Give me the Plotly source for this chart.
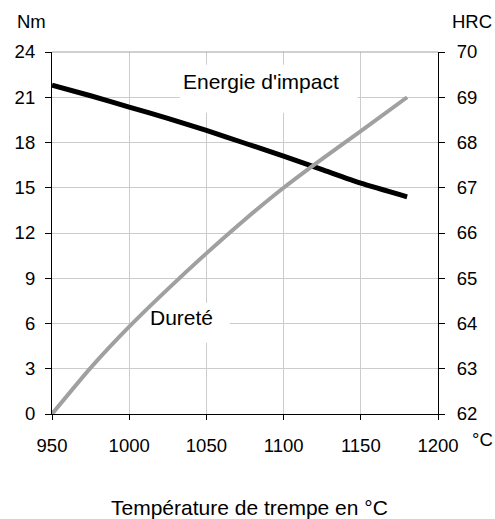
import plotly.graph_objects as go

# ---- data ----
temperature = [950, 975, 1000, 1025, 1050, 1075, 1100, 1125, 1150, 1180]
energie_nm = [21.8, 21.1, 20.35, 19.6, 18.8, 17.95, 17.1, 16.2, 15.3, 14.4]
durete_hrc = [62.0, 63.02, 63.93, 64.76, 65.55, 66.3, 67.0, 67.64, 68.25, 69.0]

x_ticks = [950, 1000, 1050, 1100, 1150, 1200]
y_ticks = [0, 3, 6, 9, 12, 15, 18, 21, 24]
y2_ticks = [62, 63, 64, 65, 66, 67, 68, 69, 70]

W, H = 495, 519
L, R, T, B = 52, 57, 52, 105
pw, ph = W - L - R, H - T - B

def px(x):
    return (x - L) / pw

def py(y):
    return (H - B - y) / ph

FONT = "Liberation Sans, Arial, sans-serif"

fig = go.Figure()
fig.add_trace(go.Scatter(x=temperature, y=energie_nm, mode="lines",
                         line=dict(color="black", width=5, shape="spline", smoothing=0.6),
                         yaxis="y", showlegend=False))
fig.add_trace(go.Scatter(x=temperature, y=durete_hrc, mode="lines",
                         line=dict(color="#a0a0a0", width=4, shape="spline", smoothing=0.6),
                         yaxis="y2", showlegend=False))

# white label boxes (above grid, below traces)
fig.add_shape(type="rect", xref="x", yref="y", x0=1032.8, x1=1147.9, y0=19.97, y1=23.15,
              fillcolor="white", line=dict(width=0), layer="between")
fig.add_shape(type="rect", xref="x", yref="y", x0=1001.1, x1=1065.1, y0=4.73, y1=7.38,
              fillcolor="white", line=dict(width=0), layer="between")
# top border
fig.add_shape(type="line", xref="paper", yref="paper", x0=0, x1=1, y0=1, y1=1,
              line=dict(color="#a0a0a0", width=1.2))

def label(x, y, text, size, xref="paper", yref="paper"):
    fig.add_annotation(x=x, y=y, xref=xref, yref=yref, text=text, showarrow=False,
                       xanchor="center", yanchor="middle",
                       font=dict(family=FONT, size=size, color="black"))

label(1085.2, 22.05, "Energie d'impact", 21, "x", "y")
label(1033.8, 6.39, "Dureté", 21, "x", "y")
label(px(31), py(21.5), "Nm", 18.5)
label(px(472), py(21.5), "HRC", 18.5)
label(px(482), py(439), "°C", 18.5)
label(px(249), py(508), "Température de trempe en °C", 21)

fig.update_layout(
    width=W, height=H,
    margin=dict(l=L, r=R, t=T, b=B, pad=0),
    paper_bgcolor="white", plot_bgcolor="white",
    font=dict(family=FONT, size=18.5, color="black"),
    xaxis=dict(range=[950, 1200], tickvals=x_ticks, ticktext=[str(v) for v in x_ticks],
               showgrid=True, gridcolor="#cccccc", gridwidth=1,
               showline=True, linecolor="black", linewidth=1.2,
               ticks="outside", ticklen=5, tickcolor="black",
               ticklabelstandoff=10, zeroline=False, fixedrange=True),
    yaxis=dict(range=[0, 24], tickvals=y_ticks,
               showgrid=True, gridcolor="#cccccc", gridwidth=1,
               showline=True, linecolor="black", linewidth=1.2,
               ticks="outside", ticklen=6, tickcolor="black",
               ticklabelstandoff=6, zeroline=False),
    yaxis2=dict(range=[62, 70], tickvals=y2_ticks, overlaying="y", side="right",
                showgrid=False, showline=True, linecolor="black", linewidth=1.2,
                ticks="outside", ticklen=6, tickcolor="black",
                ticklabelstandoff=8, zeroline=False),
)

fig.write_html("out.html")
